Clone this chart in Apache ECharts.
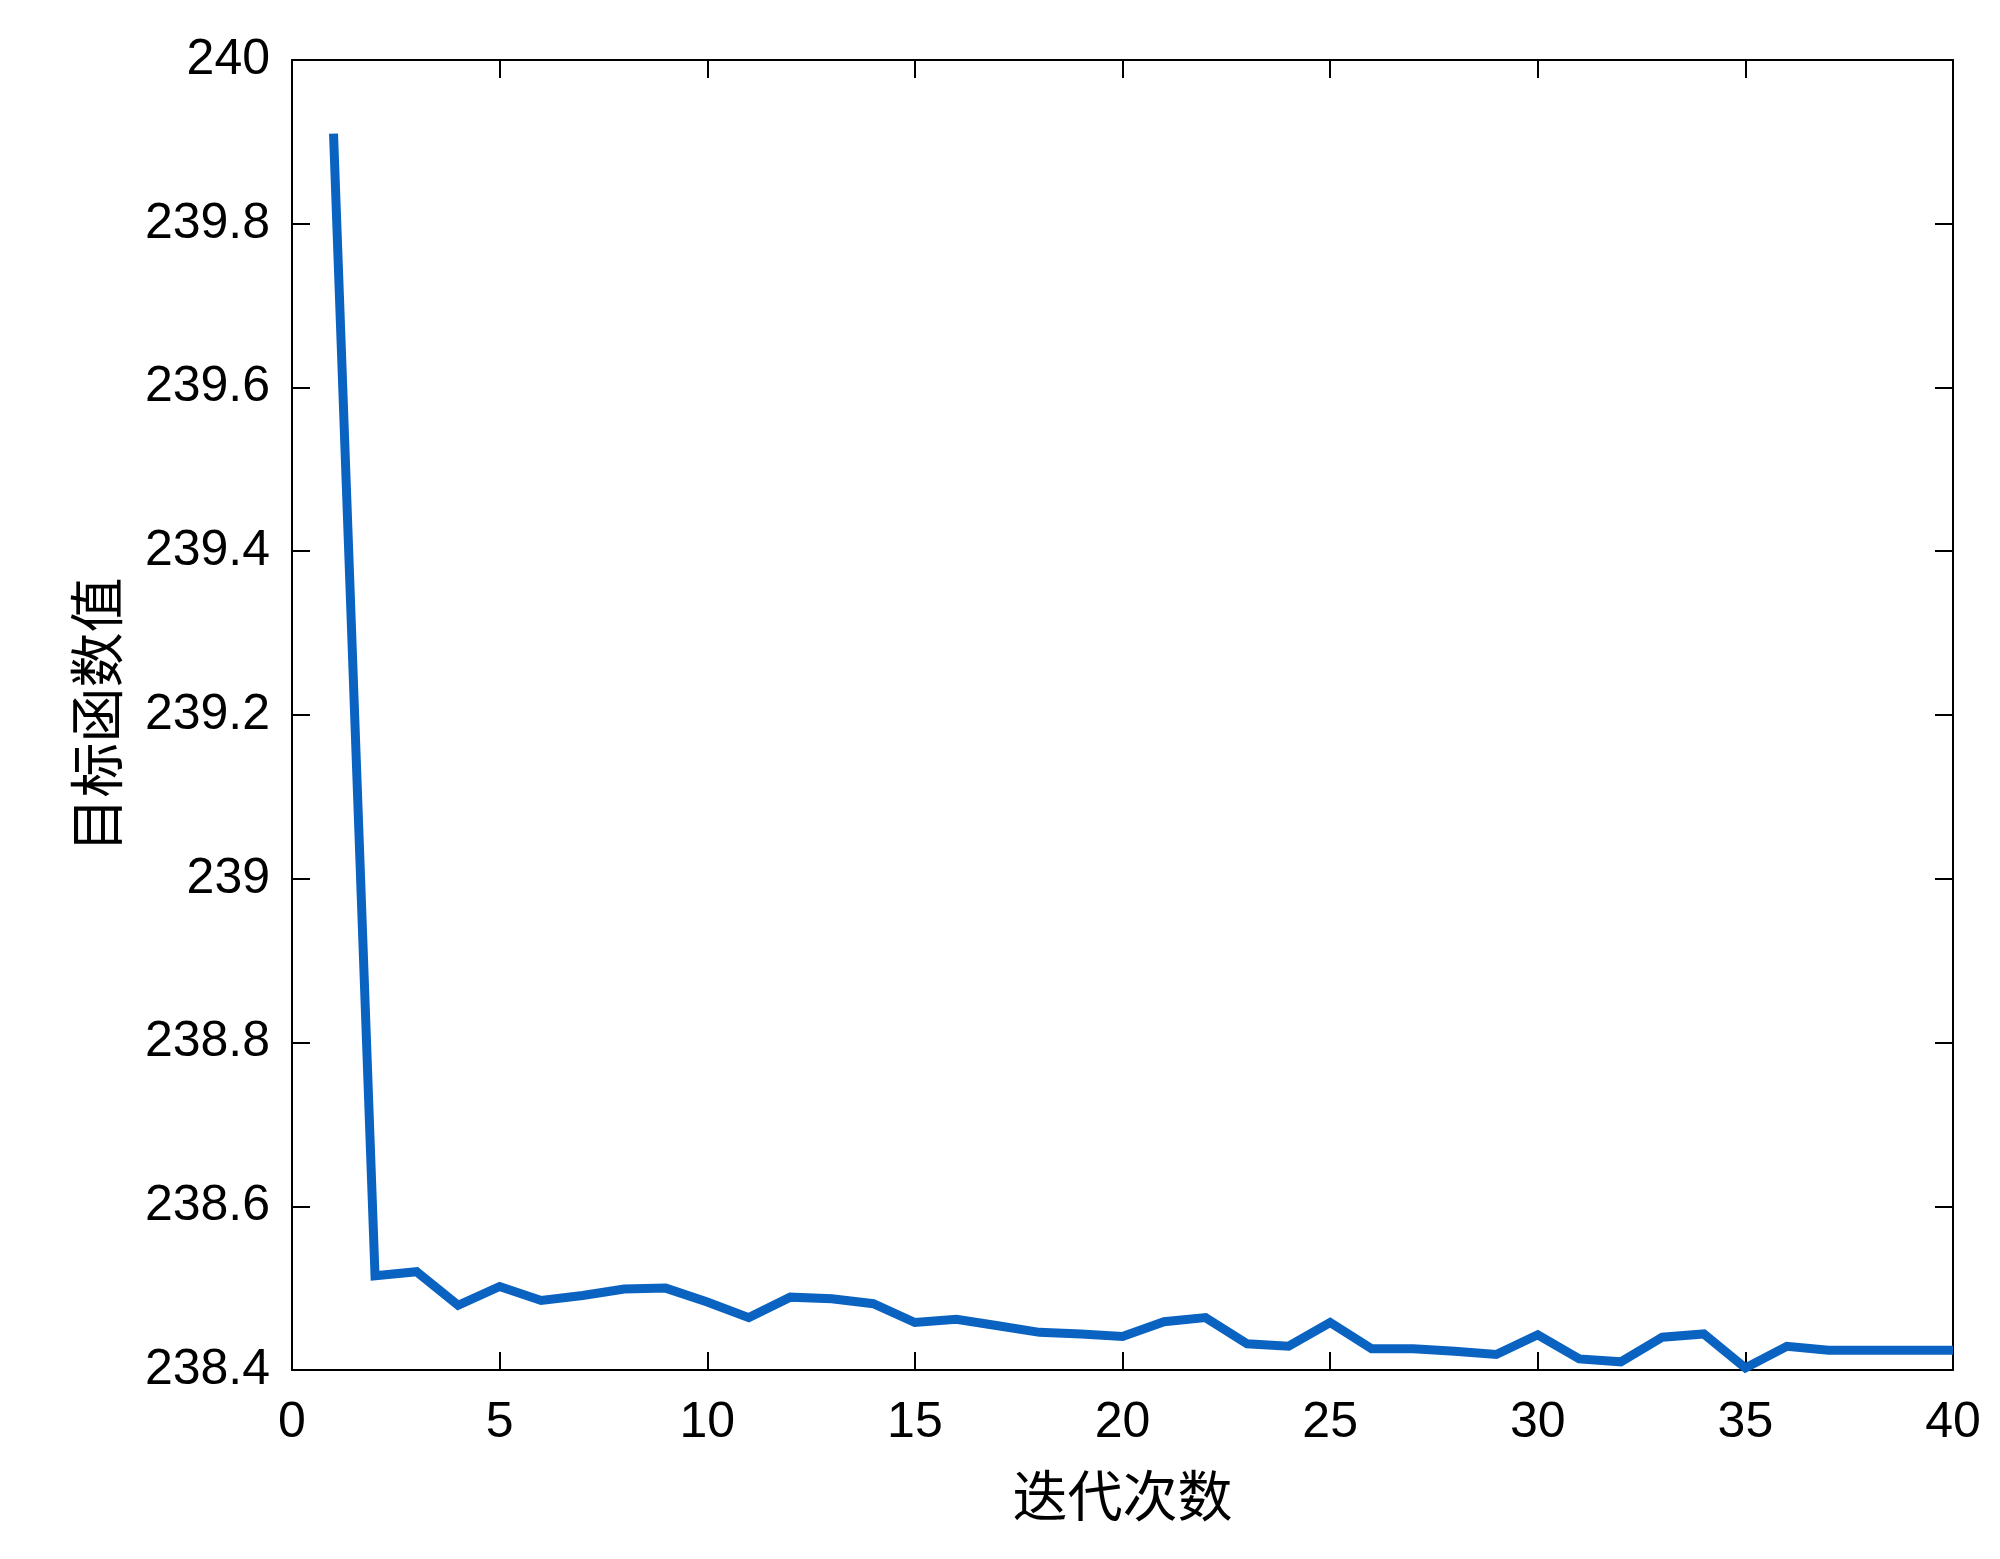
<!DOCTYPE html>
<html>
<head>
<meta charset="utf-8">
<script src="https://cdn.jsdelivr.net/npm/echarts@6/dist/echarts.min.js"></script>
<style>
  html, body { margin: 0; padding: 0; background: #fff; }
  #chart { width: 2000px; height: 1559px; }
</style>
</head>
<body>
<div id="chart"></div>
<script>
// 迭代次数
const iterations = [1, 2, 3, 4, 5, 6, 7, 8, 9, 10,
  11, 12, 13, 14, 15, 16, 17, 18, 19, 20,
  21, 22, 23, 24, 25, 26, 27, 28, 29, 30,
  31, 32, 33, 34, 35, 36, 37, 38, 39, 40];
// 目标函数值
const objValues = [239.91, 238.515, 238.520, 238.479, 238.502, 238.485, 238.491, 238.499, 238.500, 238.483,
  238.464, 238.489, 238.487, 238.481, 238.458, 238.462, 238.454, 238.446, 238.444, 238.441,
  238.459, 238.464, 238.432, 238.429, 238.458, 238.426, 238.426, 238.423, 238.419, 238.443,
  238.4135, 238.410, 238.440, 238.444, 238.4026, 238.429, 238.424, 238.424, 238.424, 238.424];

const xTicks = { min: 0, max: 40, interval: 5 };
const yTicks = { min: 238.4, max: 240, interval: 0.2 };

const labelFont = 'Liberation Sans, Arial, sans-serif';
const cjkFont = 'Noto Sans CJK SC, sans-serif';

const chart = echarts.init(document.getElementById('chart'));

// 每个轴单独建一份，避免共用对象
const mkLine = () => ({ show: true, onZero: false, lineStyle: { color: '#000', width: 2 } });
const mkTick = () => ({ show: true, inside: true, length: 18, lineStyle: { color: '#000', width: 2 } });

const option = {
  backgroundColor: '#fff',
  animation: false,
  grid: { left: 292, right: 47, top: 60, bottom: 189, containLabel: false },
  xAxis: [
    {
      type: 'value',
      min: xTicks.min, max: xTicks.max, interval: xTicks.interval,
      name: '迭代次数',
      nameLocation: 'middle',
      nameGap: 98,
      nameTextStyle: { fontFamily: cjkFont, fontSize: 55, color: '#000' },
      axisLine: mkLine(), axisTick: mkTick(),
      axisLabel: { fontFamily: labelFont, fontSize: 50, color: '#000', margin: 28 },
      splitLine: { show: false }
    },
    {
      type: 'value', position: 'top',
      min: xTicks.min, max: xTicks.max, interval: xTicks.interval,
      axisLine: mkLine(), axisTick: mkTick(),
      axisLabel: { show: false },
      splitLine: { show: false }
    }
  ],
  yAxis: [
    {
      type: 'value', position: 'left',
      min: yTicks.min, max: yTicks.max, interval: yTicks.interval,
      name: '目标函数值',
      nameLocation: 'middle',
      nameRotate: 90,
      nameGap: 168,
      nameTextStyle: { fontFamily: cjkFont, fontSize: 55, color: '#000' },
      axisLine: mkLine(), axisTick: mkTick(),
      axisLabel: { fontFamily: labelFont, fontSize: 50, color: '#000', margin: 22 },
      splitLine: { show: false }
    },
    {
      type: 'value', position: 'right',
      min: yTicks.min, max: yTicks.max, interval: yTicks.interval,
      axisLine: mkLine(), axisTick: mkTick(),
      axisLabel: { show: false },
      splitLine: { show: false }
    }
  ],
  series: [
    {
      type: 'line',
      data: iterations.map((it, i) => [it, objValues[i]]),
      showSymbol: false,
      clip: false,
      lineStyle: { color: '#0b63c1', width: 9, cap: 'butt', join: 'miter' }
    }
  ]
};

chart.setOption(option);
</script>
</body>
</html>
